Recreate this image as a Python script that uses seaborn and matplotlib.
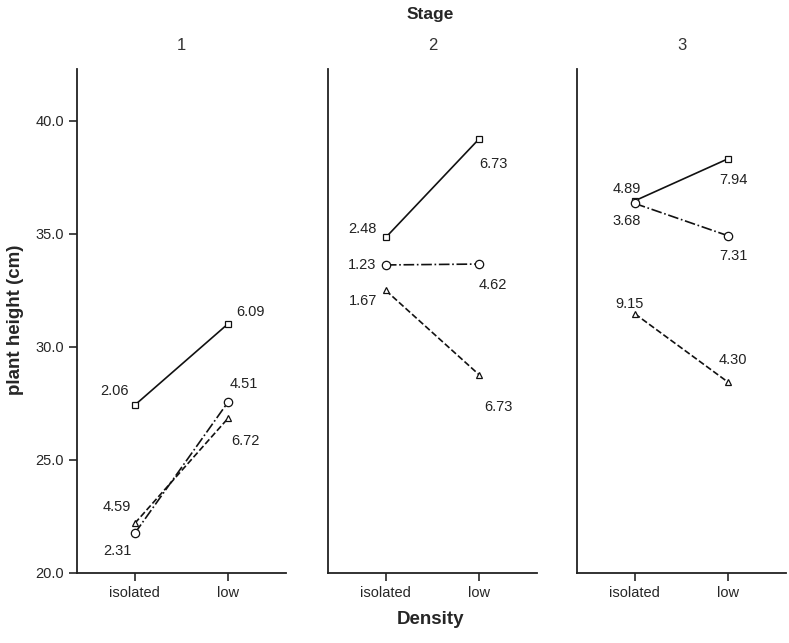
import pandas as pd
import matplotlib
matplotlib.use("Agg")
import matplotlib.pyplot as plt
import seaborn as sns

# Data
stages = [1, 2, 3]
densities = ["isolated", "low"]
groups = ["square", "circle", "triangle"]

# mean plant height per stage, group: [isolated, low]
square_height = [[27.43, 31.03], [34.85, 39.21], [36.47, 38.33]]
circle_height = [[21.76, 27.57], [33.63, 33.67], [36.35, 34.92]]
triangle_height = [[22.2, 26.85], [32.5, 28.77], [31.47, 28.44]]

# labels printed next to each point
square_labels = [["2.06", "6.09"], ["2.48", "6.73"], ["4.89", "7.94"]]
circle_labels = [["2.31", "4.51"], ["1.23", "4.62"], ["3.68", "7.31"]]
triangle_labels = [["4.59", "6.72"], ["1.67", "6.73"], ["9.15", "4.30"]]

# label placement (pixel offsets from the point)
square_offsets = [[(-20, 14), (22, 12)], [(-23, 8), (14, -25)], [(-8, 12), (5, -21)]]
circle_offsets = [[(-17, -18), (16, 18)], [(-24, 0), (14, -21)], [(-8, -18), (5, -20)]]
triangle_offsets = [[(-18, 16), (17, -23)], [(-23, -11), (19, -32)], [(-5, 10), (5, 22)]]

heights = {"square": square_height, "circle": circle_height, "triangle": triangle_height}
labels = {"square": square_labels, "circle": circle_labels, "triangle": triangle_labels}
offsets = {"square": square_offsets, "circle": circle_offsets, "triangle": triangle_offsets}

rows = []
for g in groups:
    for i, s in enumerate(stages):
        for j, d in enumerate(densities):
            rows.append({"Stage": s, "Density": d, "group": g,
                         "height": heights[g][i][j], "label": labels[g][i][j],
                         "off": offsets[g][i][j]})
df = pd.DataFrame(rows)

sns.set_style("white")
plt.rcParams["font.family"] = ["Liberation Sans", "DejaVu Sans"]

fig = plt.figure(figsize=(7.89, 6.43), dpi=100)
lefts = [77, 328, 577]
for k, s in enumerate(stages):
    ax = fig.add_axes([lefts[k] / 789, 70 / 643, 209 / 789, 504 / 643])
    sub = df[df["Stage"] == s]
    sns.pointplot(data=sub, x="Density", y="height", hue="group",
                  hue_order=groups, order=densities,
                  markers=["s", "o", "^"], linestyles=["-", "-.", "--"],
                  palette=["#111111"] * 3, errorbar=None, dodge=False,
                  linewidth=1.2, markersize=5, markeredgewidth=0.9,
                  markerfacecolor="white", legend=False, ax=ax)
    # marker sizes like the original
    for line in ax.get_lines():
        m = line.get_marker()
        if m == "o":
            line.set_markersize(6)
        elif m == "s":
            line.set_markersize(4.5)
        elif m == "^":
            line.set_markersize(4)
    for _, r in sub.iterrows():
        ax.annotate(r["label"], (densities.index(r["Density"]), r["height"]),
                    xytext=r["off"], textcoords="offset pixels",
                    ha="center", va="center", fontsize=10.5, color="#222222")
    ax.set_xlim(-0.62, 1.62)
    ax.set_ylim(20, 42.3)
    ax.set_title(str(s), fontsize=12, pad=14, color="#333333")
    ax.set_xlabel("")
    ax.set_ylabel("")
    sns.despine(ax=ax)
    for sp in ["left", "bottom"]:
        ax.spines[sp].set_linewidth(1.3)
        ax.spines[sp].set_color("#222222")
    ax.tick_params(axis="x", bottom=True, length=6, width=1.2, labelsize=10.5)
    if k == 0:
        ax.set_yticks([20, 25, 30, 35, 40])
        ax.set_yticklabels(["20.0", "25.0", "30.0", "35.0", "40.0"])
        ax.tick_params(axis="y", left=True, length=6, width=1.2, labelsize=10.5)
    else:
        ax.set_yticks([])

fig.text(430 / 789, 1 - 15 / 643, "Stage", ha="center", va="center",
         fontsize=12.5, fontweight="bold")
fig.text(430 / 789, 1 - 620 / 643, "Density", ha="center", va="center",
         fontsize=13.5, fontweight="bold")
fig.text(16 / 789, 1 - 320 / 643, "plant height (cm)", ha="center", va="center",
         rotation=90, fontsize=13.5, fontweight="bold")

plt.savefig("out.png", dpi=100)
